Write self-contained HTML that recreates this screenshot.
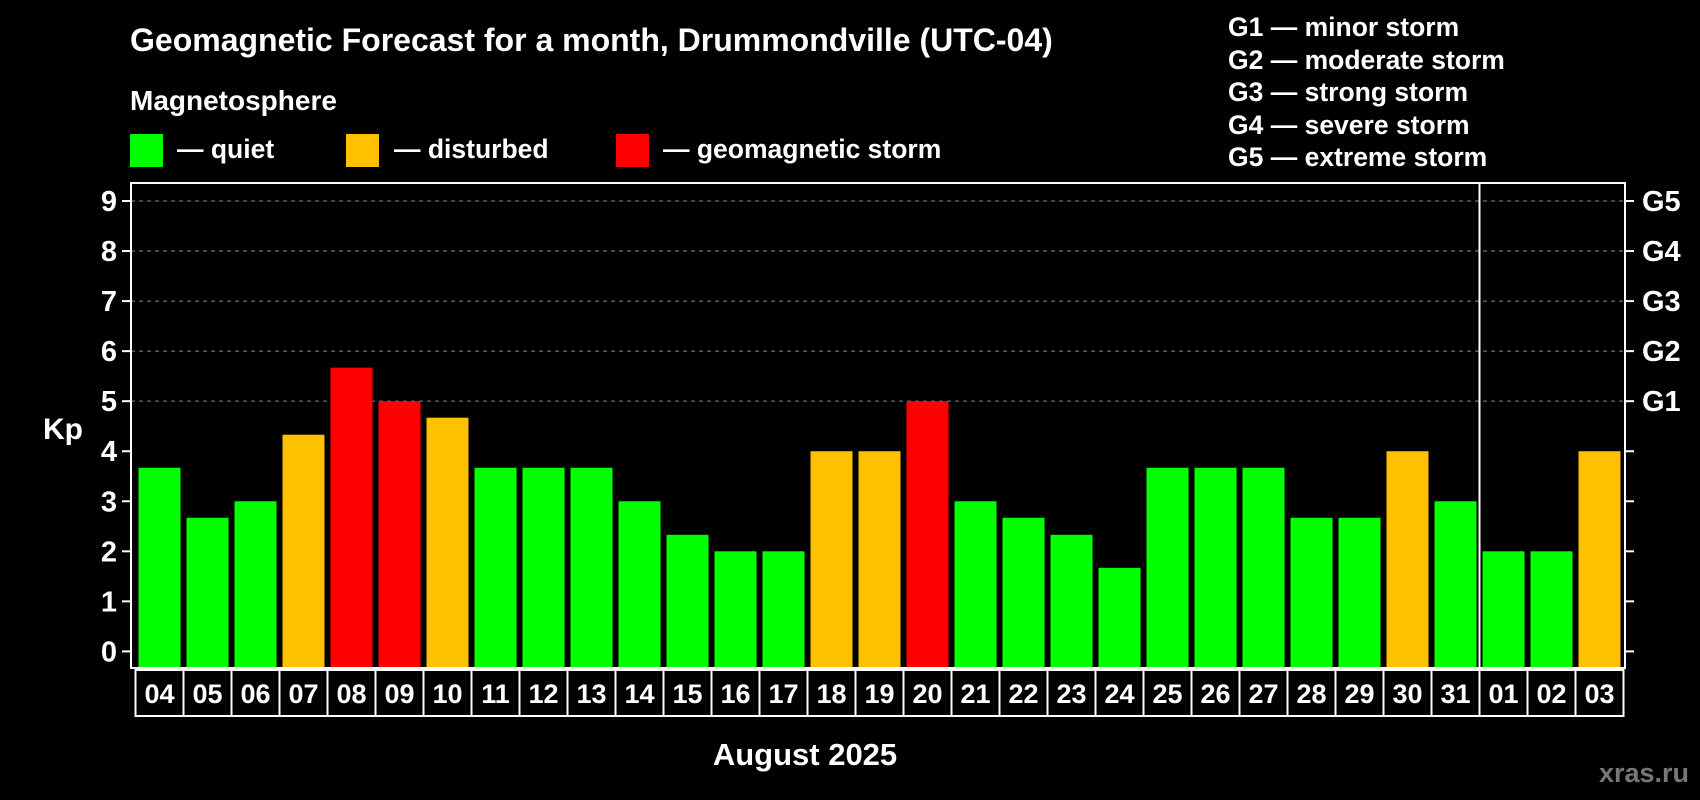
<!DOCTYPE html>
<html><head><meta charset="utf-8"><style>
html,body{margin:0;padding:0;background:#000;}
svg{display:block;font-family:"Liberation Sans",Arial,sans-serif;font-weight:bold;}
</style></head><body>
<svg id="chart" width="1700" height="800" viewBox="0 0 1700 800" xmlns="http://www.w3.org/2000/svg">
<rect width="1700" height="800" fill="#000"/>
<text x="130" y="51" fill="#fff" font-size="32">Geomagnetic Forecast for a month, Drummondville (UTC-04)</text>
<text x="130" y="110" fill="#fff" font-size="28">Magnetosphere</text>
<g><rect x="130" y="134" width="33" height="33" fill="#00ff00"/><text x="177" y="158" fill="#fff" font-size="26.5">— quiet</text></g>
<g><rect x="346" y="134" width="33" height="33" fill="#ffc000"/><text x="394" y="158" fill="#fff" font-size="26.5">— disturbed</text></g>
<g><rect x="616" y="134" width="33" height="33" fill="#ff0000"/><text x="663" y="158" fill="#fff" font-size="26.5">— geomagnetic storm</text></g>
<g fill="#fff" font-size="26.5">
<text x="1228" y="36">G1 — minor storm</text>
<text x="1228" y="69">G2 — moderate storm</text>
<text x="1228" y="101">G3 — strong storm</text>
<text x="1228" y="134">G4 — severe storm</text>
<text x="1228" y="166">G5 — extreme storm</text>
</g>
<text x="43" y="439" fill="#fff" font-size="30">Kp</text>
<text x="805" y="765" fill="#fff" font-size="31" text-anchor="middle">August 2025</text>
<text x="1689" y="782" fill="#777" font-size="27" text-anchor="end">xras.ru</text>
<g id="grid"></g><g id="bars"></g><g id="axes"></g><g id="xlabels"></g>
</svg>
<script>
const days = ["04","05","06","07","08","09","10","11","12","13","14","15","16","17","18","19","20","21","22","23","24","25","26","27","28","29","30","31","01","02","03"];
const kp = [3.67,2.67,3,4.33,5.67,5,4.67,3.67,3.67,3.67,3,2.33,2,2,4,4,5,3,2.67,2.33,1.67,3.67,3.67,3.67,2.67,2.67,4,3,2,2,4];
const yTicks = [0,1,2,3,4,5,6,7,8,9];
const gLabels = ["","","","","","G1","G2","G3","G4","G5"];
const monthBreak = 28;
const NS="http://www.w3.org/2000/svg";
const L=131,R=1625,T=183,B=668,y0=651.4,unit=(651.4-201)/9;
const x0=138.5,pitch=48,bw=42;
const y=v=>y0-v*unit;
const x=i=>x0+i*pitch;
function mk(tag,attrs,parent){const e=document.createElementNS(NS,tag);for(const k in attrs)e.setAttribute(k,attrs[k]);parent.appendChild(e);return e;}
const grid=document.getElementById('grid'),bars=document.getElementById('bars'),axes=document.getElementById('axes'),xl=document.getElementById('xlabels');
yTicks.forEach((t,i)=>{
  if(t>=5){const g=mk('line',{x1:L,x2:R,y1:y(t),y2:y(t),stroke:'#888','stroke-dasharray':'4,4','stroke-width':1},grid);
  
  }
  const tl=mk('line',{x1:L-9,x2:L,y1:y(t),y2:y(t),stroke:'#fff','stroke-width':2},axes);
  
  
  const tr=mk('line',{x1:R,x2:R+9,y1:y(t),y2:y(t),stroke:'#fff','stroke-width':2},axes);
  
  
  const lb=mk('text',{x:117,y:y(t)+10,fill:'#fff','font-size':29,'text-anchor':'end'},axes);
  lb.textContent=t;
  
  
  if(gLabels[i]){const gl=mk('text',{x:1642,y:y(t)+10,fill:'#fff','font-size':29},axes);
  gl.textContent=gLabels[i];
  
  }
});
kp.forEach((v,i)=>{
  const c=v>=5?'#ff0000':(v>=4?'#ffc000':'#00ff00');
  const r=mk('rect',{x:x(i),y:y(v),width:bw,height:B-y(v),fill:c},bars);
  
  
  const bx=mk('rect',{x:x(i)-3,y:B+2,width:pitch,height:46,fill:'none',stroke:'#fff','stroke-width':2},xl);
  
  
  const t=mk('text',{x:x(i)+bw/2,y:B+35,fill:'#fff','font-size':27,'text-anchor':'middle'},xl);
  t.textContent=days[i];
  
  
});
const fr=mk('rect',{x:L,y:T,width:R-L,height:B-T,fill:'none',stroke:'#fff','stroke-width':2},axes);


const sep=mk('line',{x1:x(monthBreak)-3,x2:x(monthBreak)-3,y1:T,y2:B,stroke:'#fff','stroke-width':2},axes);


</script>
</body></html>
